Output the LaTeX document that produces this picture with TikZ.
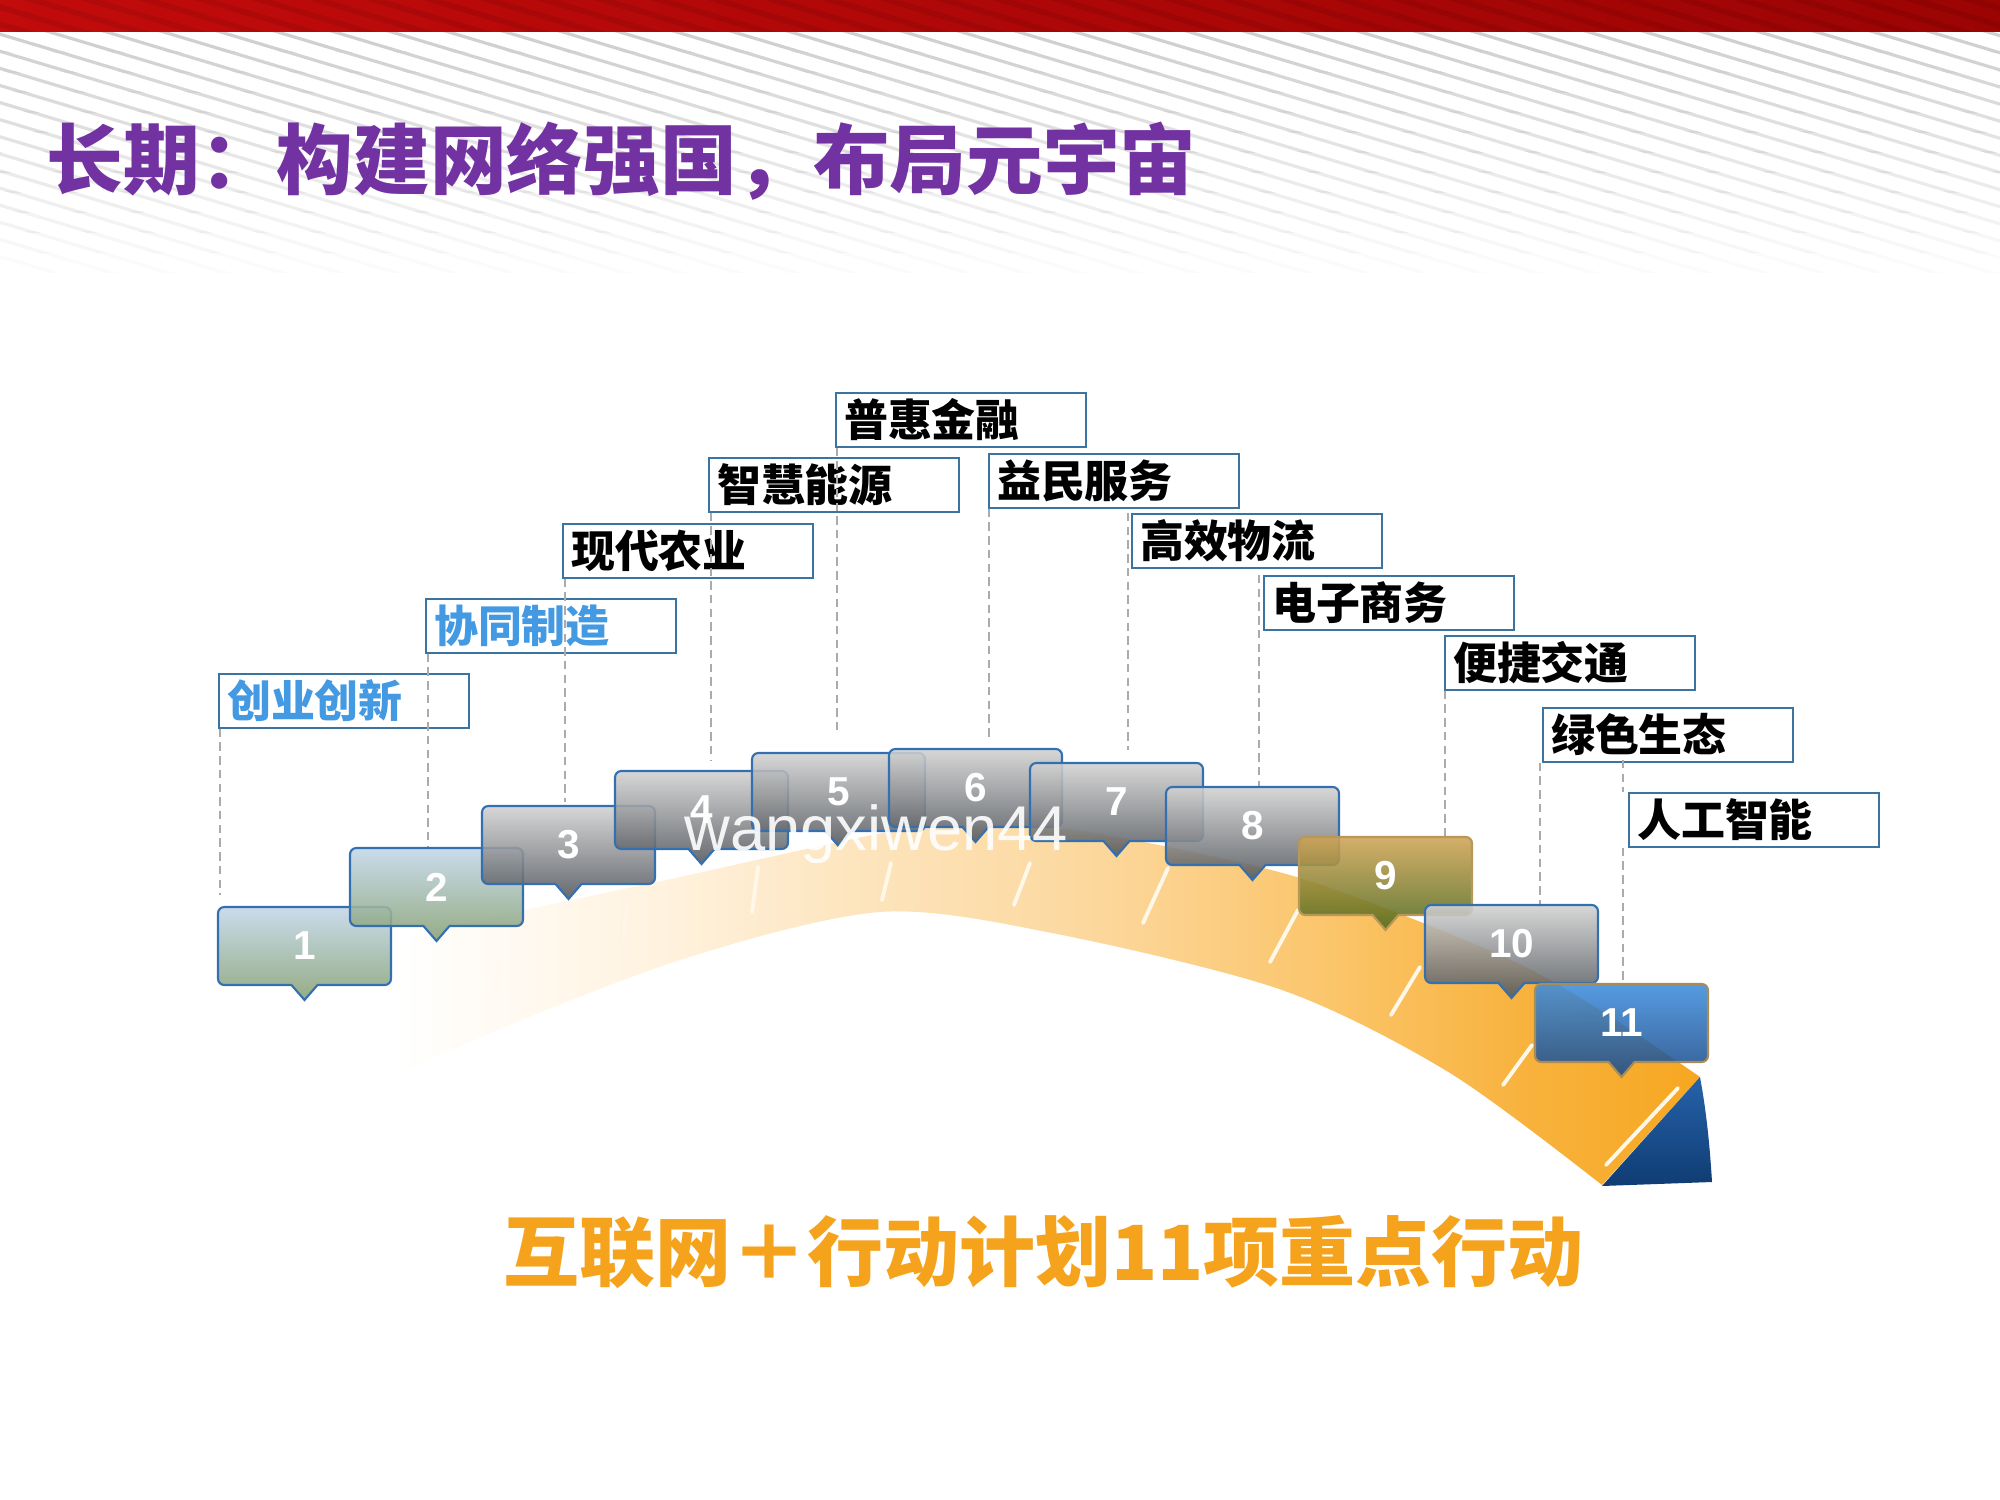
\documentclass[tikz,border=0pt]{standalone}
\usepackage{fontspec}
\newfontfamily\cjk{Noto Sans CJK SC}
\newfontfamily\arialf{Liberation Sans}
\usetikzlibrary{calc}
\definecolor{barL}{HTML}{C20B0B}
\definecolor{barR}{HTML}{9C0404}
\definecolor{stripegray}{HTML}{D0D0D0}
\definecolor{titlepurple}{HTML}{7232A2}
\definecolor{bottomorange}{HTML}{F5A31C}
\definecolor{lblborder}{HTML}{3B74A0}
\definecolor{lblblue}{HTML}{4399E2}
\definecolor{dashgray}{HTML}{ABABAB}
\definecolor{bandA}{HTML}{FFF3E0}
\definecolor{bandB}{HTML}{FDE5BF}
\definecolor{bandC}{HTML}{FCD79C}
\definecolor{bandD}{HTML}{FBC56A}
\definecolor{bandE}{HTML}{F8B23C}
\definecolor{bandF}{HTML}{F6A51C}
\definecolor{endTop}{HTML}{2662AA}
\definecolor{endBot}{HTML}{0F3C72}
\definecolor{bgTop}{HTML}{C3D7EA}
\definecolor{bgBot}{HTML}{87A173}
\definecolor{grTop}{HTML}{D2D2D2}
\definecolor{grBot}{HTML}{51555B}
\definecolor{goTop}{HTML}{D0A455}
\definecolor{goBot}{HTML}{4E6A1C}
\definecolor{blTop}{HTML}{3F8EDD}
\definecolor{blBot}{HTML}{1B4A88}
\definecolor{boxblue}{HTML}{3470B0}
\definecolor{boxtan}{HTML}{A98C55}
\definecolor{boxgold}{HTML}{B8985A}
\definecolor{tickcream}{HTML}{FFF8E8}

\tikzset{
  stripe/.style={stripegray, line width=0.9pt},
  lbl/.style={draw=lblborder, line width=0.6pt, anchor=north west, minimum height=0.535cm,
    text width=2.34cm, inner xsep=0.08cm, inner ysep=0pt, align=left,
    font=\fontsize{12.5}{14}\cjk\bfseries},
  dl/.style={draw=dashgray, line width=0.45pt, dash pattern=on 2.4pt off 1.5pt},
  ruler/.style={draw=tickcream, line width=1.1pt, line cap=round},
  numtxt/.style={minimum width=1.73cm, minimum height=0.78cm, inner sep=0pt, text=white,
    font=\fontsize{11.5}{13}\arialf\bfseries},
  cbox/.style={fill opacity=0.88, line width=0.6pt},
  cbBG/.style={top color=bgTop, bottom color=bgBot, draw=boxblue},
  cbGR/.style={top color=grTop, bottom color=grBot, draw=boxblue},
  cbGO/.style={top color=goTop, bottom color=goBot, draw=boxgold},
  cbBL/.style={top color=blTop, bottom color=blBot, draw=boxtan}
}

\newcommand\mycallout[5]{%
  \path[cbox,#5] (#2,#3) [rounded corners=1.8pt] -- (#2+173,#3) -- (#2+173,#3+78)
     [sharp corners] -- (#2+99.5,#3+78) -- (#2+86.5,#3+93) -- (#2+73.5,#3+78)
     [rounded corners=1.8pt] -- (#2,#3+78) -- cycle;
  \node[numtxt] (n#1) at (#2+86.5,#3+39) {#4};
  \coordinate (p#1) at (#2+86.5,#3+93);
}

\begin{document}
\begin{tikzpicture}[x=0.01cm,y=-0.01cm]
\useasboundingbox (0,0) rectangle (2000,1500);
\fill[white] (0,0) rectangle (2000,1500);

% background stripes, fading downwards
\foreach \j in {0,...,11} {
  \pgfmathsetmacro\op{1-\j/12}
  \begin{scope}
    \clip (0,32+\j*20) rectangle (2000,52.5+\j*20);
    \foreach \k in {-40,...,36} \draw[stripe, opacity=\op] (\k*57,0) -- ++(1100,330);
  \end{scope}
}

% red top bar
\shade[left color=barL, right color=barR] (0,0) rectangle (2000,32);
\begin{scope}
  \clip (0,0) rectangle (2000,32);
  \foreach \k in {-5,...,36} \draw[black, opacity=0.08, line width=1.6pt] (\k*57,-10) -- ++(1000,300);
\end{scope}

% title
\node[anchor=base west, inner sep=0pt, text=titlepurple, font=\fontsize{21.8}{26}\cjk\bfseries]
  (title) at (46,189) {长期：构建网络强国，布局元宇宙};

% arch band
\begin{scope}
  \clip plot[smooth] coordinates {(195,1003) (440,930) (680,877) (900,830) (1000,826) (1100,834) (1300,878) (1500,955) (1600,1010) (1700,1077)}
     -- plot[smooth] coordinates {(1602,1185) (1450,1073) (1282,990) (1052,933) (880,912) (680,960) (450,1050) (240,1150)} -- cycle;
  \shade[left color=white, right color=bandA] (399,780) rectangle (651,1220);
  \shade[left color=bandA, right color=bandB] (650,780) rectangle (851,1220);
  \shade[left color=bandB, right color=bandC] (850,780) rectangle (1101,1220);
  \shade[left color=bandC, right color=bandD] (1100,780) rectangle (1331,1220);
  \shade[left color=bandD, right color=bandE] (1330,780) rectangle (1531,1220);
  \shade[left color=bandE, right color=bandF] (1530,780) rectangle (1730,1220);
\end{scope}

% ruler ticks
\draw[ruler, opacity=0.35] (499,962) -- (495,990);
\draw[ruler, opacity=0.6] (627,906) -- (623,940);
\draw[ruler] (758,867) -- (752,912);
\draw[ruler] (891,863) -- (882,900);
\draw[ruler] (1030,863) -- (1014,905);
\draw[ruler] (1168,868) -- (1143,923);
\draw[ruler] (1298,910) -- (1270,962);
\draw[ruler] (1420,967) -- (1391,1015);
\draw[ruler] (1532,1045) -- (1503,1085);
\draw[ruler] (1678,1088) -- (1606,1165);

% blue end piece
\shade[top color=endTop, bottom color=endBot] (1700,1077) .. controls (1707,1115) and (1710,1150) .. (1712,1182) -- (1602,1186) -- cycle;

% label boxes
\node[lbl, text=lblblue] (t1) at (218,673) {创业创新};
\node[lbl, text=lblblue] (t2) at (425,598) {协同制造};
\node[lbl] (t3) at (562,523) {现代农业};
\node[lbl] (t4) at (708,457) {智慧能源};
\node[lbl] (t5) at (835,392) {普惠金融};
\node[lbl] (t6) at (988,453) {益民服务};
\node[lbl] (t7) at (1131,513) {高效物流};
\node[lbl] (t8) at (1263,575) {电子商务};
\node[lbl] (t9) at (1444,635) {便捷交通};
\node[lbl] (t10) at (1542,707) {绿色生态};
\node[lbl] (t11) at (1628,792) {人工智能};

% dashed leaders
\draw[dl] ($(t1.south west)+(2,0)$) -- ++(0,166);
\draw[dl] ($(t2.south west)+(3,0)$) -- ++(0,194);
\draw[dl] ($(t3.south west)+(3,0)$) -- ++(0,223);
\draw[dl] ($(t4.south west)+(3,0)$) -- ++(0,247);
\draw[dl] ($(t5.south west)+(2,0)$) -- ++(0,288);
\draw[dl] ($(t6.south west)+(1,0)$) -- ++(0,231);
\draw[dl] ($(t7.north west)+(-3,0)$) -- ++(0,237);
\draw[dl] ($(t8.north west)+(-4,0)$) -- ++(0,212);
\draw[dl] ($(t9.south west)+(1,0)$) -- ++(0,149);
\draw[dl] ($(t10.south west)+(-2,0)$) -- ++(0,144);
\draw[dl] ($(t11.north west)+(-5,-32)$) -- ($(t11.north west)+(-5,0)$);
\draw[dl] ($(t11.south west)+(-5,0)$) -- ++(0,134);

% numbered callouts
\mycallout{1}{218}{907}{1}{cbBG}
\mycallout{2}{350}{848}{2}{cbBG}
\mycallout{3}{482}{806}{3}{cbGR}
\mycallout{4}{615}{771}{4}{cbGR}
\mycallout{5}{752}{753}{5}{cbGR}
\mycallout{6}{889}{749}{6}{cbGR}
\mycallout{7}{1030}{763}{7}{cbGR}
\mycallout{8}{1166}{787}{8}{cbGR}
\mycallout{9}{1299}{837}{9}{cbGO}
\mycallout{10}{1425}{905}{10}{cbGR}
\mycallout{11}{1535}{984}{11}{cbBL}

% watermark
\node[anchor=base west, inner sep=0pt, text=white, text opacity=0.9, font=\fontsize{18}{20}\arialf]
  (wm) at (684,850) {wangxiwen44};

% slogan
\node[anchor=base west, inner sep=0pt, text=bottomorange, font=\fontsize{21.6}{26}\cjk\bfseries]
  (slogan) at (503,1280) {互联网＋行动计划11项重点行动};
\end{tikzpicture}
\end{document}
